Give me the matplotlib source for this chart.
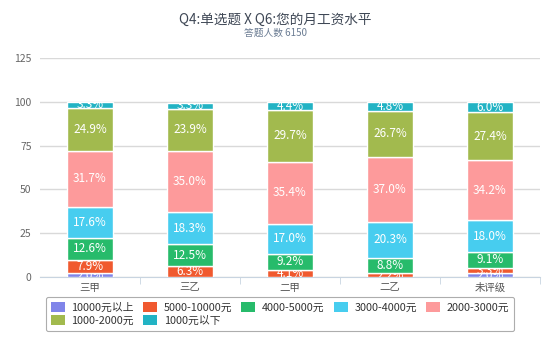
import matplotlib
matplotlib.use("Agg")
import matplotlib.pyplot as plt
from matplotlib.transforms import Bbox, TransformedBbox
import numpy as np

plt.rcParams['font.family'] = ['Noto Sans CJK SC', 'DejaVu Sans']

# 数据
categories = ['三甲', '三乙', '二甲', '二乙', '未评级']
series_names = ['10000元以上', '5000-10000元', '4000-5000元', '3000-4000元',
                '2000-3000元', '1000-2000元', '1000元以下']
v_10000_up = [2.0, 0.0, 0.0, 0.0, 2.0]
v_5000_10000 = [7.9, 6.3, 4.1, 2.2, 3.3]
v_4000_5000 = [12.6, 12.5, 9.2, 8.8, 9.1]
v_3000_4000 = [17.6, 18.3, 17.0, 20.3, 18.0]
v_2000_3000 = [31.7, 35.0, 35.4, 37.0, 34.2]
v_1000_2000 = [24.9, 23.9, 29.7, 26.7, 27.4]
v_1000_down = [3.3, 3.3, 4.4, 4.8, 6.0]
colors = ['#8085e9', '#f0592f', '#27bb6b', '#47cdef', '#fd9a9b', '#a2ba4e', '#22b3c4']

series = [v_10000_up, v_5000_10000, v_4000_5000, v_3000_4000,
          v_2000_3000, v_1000_2000, v_1000_down]

fig = plt.figure(figsize=(5.5, 3.38), dpi=100)
ax = fig.add_axes([40 / 550, 61 / 338, 500 / 550, 219 / 338])

x = np.arange(len(categories))
bottom = np.zeros(len(categories))
handles = []
for vals, name, c in zip(series, series_names, colors):
    vals = np.array(vals)
    bars = ax.bar(x, vals, width=0.46, bottom=bottom, color=c,
                  edgecolor='white', linewidth=1.0, label=name, zorder=3)
    handles.append(bars)
    for rect, v, b in zip(bars, vals, bottom):
        if v <= 0:
            continue
        x0 = rect.get_x()
        t = ax.text(x0 + rect.get_width() / 2, b + v / 2, f'{v:.1f}%',
                    ha='center', va='center', color='white', fontsize=8.5,
                    zorder=4)
        # 标签只在自己的色块内显示
        box = Bbox([[x0, b], [x0 + rect.get_width(), b + v]])
        t.set_clip_box(TransformedBbox(box, ax.transData))
        t.set_clip_on(True)
    bottom += vals

ax.set_xlim(-0.5, 4.5)
ax.set_ylim(0, 125)
ax.set_yticks([0, 25, 50, 75, 100, 125])
ax.yaxis.grid(True, color='#d9d9d9', linewidth=1)
ax.set_axisbelow(True)
ax.tick_params(axis='y', length=0, pad=6, labelsize=7.5, labelcolor='#666666')

ax.set_xticks(x)
ax.set_xticklabels(categories)
ax.set_xticks(np.arange(0.5, 4.6, 1), minor=True)
ax.tick_params(axis='x', which='major', length=0, pad=4, labelsize=7.5,
               labelcolor='#555555')
ax.tick_params(axis='x', which='minor', length=5, color='#c8d4e0')

for s in ['top', 'right', 'left']:
    ax.spines[s].set_visible(False)
ax.spines['bottom'].set_color('#c8d4e0')

fig.text(0.5, 1 - 20 / 338, 'Q4:单选题 X Q6:您的月工资水平', ha='center', va='center',
         fontsize=9.8, color='#3e4755')
fig.text(0.5, 1 - 33 / 338, '答题人数 6150', ha='center', va='center',
         fontsize=7, color='#6b7c93')

# 行优先排列图例
order = [0, 5, 1, 6, 2, 3, 4]
leg = fig.legend([handles[i] for i in order], [series_names[i] for i in order],
                 ncol=5, loc='center', bbox_to_anchor=(280 / 550, 1 - 314 / 338),
                 fontsize=7.8, frameon=True, fancybox=True, handlelength=1.3,
                 handleheight=1.0, handletextpad=0.6, columnspacing=0.85,
                 labelspacing=0.25, borderpad=0.45, labelcolor='#333333')
leg.get_frame().set_edgecolor('#999999')
leg.get_frame().set_linewidth(0.8)
for h in leg.legend_handles:
    h.set_edgecolor('none')

fig.savefig('out.png', dpi=100)
